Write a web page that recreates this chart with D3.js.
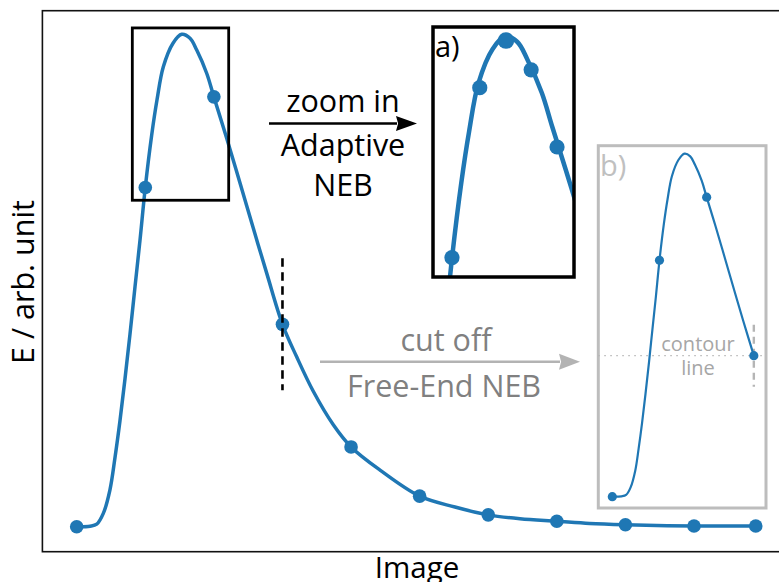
<!DOCTYPE html>
<html>
<head>
<meta charset="utf-8">
<script src="https://cdnjs.cloudflare.com/ajax/libs/d3/7.8.5/d3.min.js"></script>
<style>
  body { margin: 0; background: #fff; }
  svg { display: block; font-family: "Open Sans", sans-serif; }
</style>
</head>
<body>
<div class="chart"></div>
<script>
const width = 779;
const height = 582;

// NEB images (x = image, E in arb. units)
const imageX = [0, 1, 2, 3, 4, 5, 6, 7, 8, 9, 9.9];
const imageE = [0, 0.689, 0.873, 0.411, 0.162, 0.062, 0.024, 0.011, 0.004, 0.0014, 0.0014];

// interpolated energy path
const pathX = [0, 0.194, 0.292, 0.388, 0.485, 0.558, 0.631, 0.704, 0.777, 0.850, 0.923, 1.0,
               1.093, 1.171, 1.263, 1.404, 1.531, 1.652, 1.750, 1.895, 2.0, 2.187, 2.381,
               2.575, 2.770, 3.0, 3.207, 3.449, 3.741, 4.0, 4.422, 5.0, 5.515, 6.0,
               6.463, 7.0, 7.478, 8.0, 9.0, 9.9];
const pathE = [0, 0.001, 0.005, 0.027, 0.075, 0.140, 0.215, 0.300, 0.391, 0.487, 0.582, 0.689,
               0.795, 0.867, 0.934, 0.982, 1.0, 0.992, 0.968, 0.921, 0.873, 0.789, 0.698,
               0.606, 0.515, 0.411, 0.345, 0.275, 0.207, 0.162, 0.115, 0.062, 0.040, 0.024,
               0.016, 0.011, 0.0065, 0.004, 0.0014, 0.0014];

// adaptive NEB images around the saddle (inset a)
const adaptiveX = [1.0, 1.277, 1.538, 1.789, 2.047];
const adaptiveE = [0.690, 0.928, 0.994, 0.953, 0.845];

// free-end NEB cut-off image
const cutIndex = 3;

const blue = "#1f77b4";
const path = pathX.map((x, i) => ({x: x, e: pathE[i]}));
const images = imageX.map((x, i) => ({x: x, e: imageE[i]}));
const adaptive = adaptiveX.map((x, i) => ({x: x, e: adaptiveE[i]}));

const svg = d3.select(".chart")
    .append("svg")
    .attr("width", width)
    .attr("height", height);

// main axes
const x = d3.scaleLinear().domain([-0.5, 10.5]).range([42.4, 796.9]);
const y = d3.scaleLinear().domain([-0.0508, 1.048]).range([551.7, 10.7]);

let line = (xs, ys) => d3.line()
    .x(d => xs(d.x))
    .y(d => ys(d.e))
    .curve(d3.curveCatmullRom.alpha(0.5));

svg.append("rect")
    .attr("x", x(-0.5)).attr("y", y(1.048))
    .attr("width", x(10.5) - x(-0.5)).attr("height", y(-0.0508) - y(1.048))
    .attr("fill", "none").attr("stroke", "#111").attr("stroke-width", 1.6);

svg.append("path")
    .datum(path)
    .attr("d", line(x, y))
    .attr("fill", "none")
    .attr("stroke", blue)
    .attr("stroke-width", 3.5);

svg.append("g")
    .selectAll("circle")
    .data(images)
    .join("circle")
    .attr("cx", d => x(d.x))
    .attr("cy", d => y(d.e))
    .attr("r", 6.8)
    .attr("fill", blue);

// zoom box on the saddle
const zx = [0.811, 2.216];
const ze = [0.663, 1.013];
svg.append("rect")
    .attr("x", x(zx[0])).attr("y", y(ze[1]))
    .attr("width", x(zx[1]) - x(zx[0])).attr("height", y(ze[0]) - y(ze[1]))
    .attr("fill", "none").attr("stroke", "#000").attr("stroke-width", 2.8);

// cut off marker
const cut = images[cutIndex];
svg.append("line")
    .attr("x1", x(cut.x)).attr("x2", x(cut.x))
    .attr("y1", y(cut.e) - 66).attr("y2", y(cut.e) + 66)
    .attr("stroke", "#000").attr("stroke-width", 2.6)
    .attr("stroke-dasharray", "8.5,5.5");

// axis labels
svg.append("text")
    .attr("x", 417).attr("y", 578)
    .attr("text-anchor", "middle")
    .attr("font-size", 29.5)
    .text("Image");
svg.append("text")
    .attr("transform", "translate(34,282) rotate(-90)")
    .attr("text-anchor", "middle")
    .attr("font-size", 30.5)
    .text("E / arb. unit");

// arrows
function arrow(x1, x2, yy, color, hl, hw) {
    svg.append("line")
        .attr("x1", x1).attr("x2", x2 - hl + 1)
        .attr("y1", yy).attr("y2", yy)
        .attr("stroke", color).attr("stroke-width", 2.6);
    svg.append("path")
        .attr("d", `M${x2},${yy}L${x2 - hl},${yy - hw}L${x2 - hl * 0.9},${yy}L${x2 - hl},${yy + hw}Z`)
        .attr("fill", color);
}
arrow(269, 417, 123.5, "#000", 21, 7.5);
arrow(320, 580, 361.7, "#b3b3b3", 21, 8);

const note = (tx, ty, txt, color) => svg.append("text")
    .attr("x", tx).attr("y", ty)
    .attr("text-anchor", "middle")
    .attr("font-size", 30.5)
    .attr("fill", color)
    .text(txt);
note(343, 112, "zoom in", "#000");
note(343, 156, "Adaptive", "#000");
note(343, 196, "NEB", "#000");
note(446, 351, "cut off", "#808080");
note(444, 397, "Free-End NEB", "#808080");

// inset a) adaptive NEB
const ax = d3.scaleLinear().domain(zx).range([433, 574]);
const ay = d3.scaleLinear().domain(ze).range([277, 27]);
const ga = svg.append("g");
ga.append("clipPath").attr("id", "clipA")
    .append("rect").attr("x", 433).attr("y", 27).attr("width", 141).attr("height", 250);
ga.append("path")
    .datum(path)
    .attr("clip-path", "url(#clipA)")
    .attr("d", line(ax, ay))
    .attr("fill", "none")
    .attr("stroke", blue)
    .attr("stroke-width", 4.5);
ga.selectAll("circle")
    .data(adaptive)
    .join("circle")
    .attr("cx", d => ax(d.x))
    .attr("cy", d => ay(d.e))
    .attr("r", (d, i) => i === 2 ? 8.3 : 7.6)
    .attr("fill", blue);
ga.append("rect")
    .attr("x", 433).attr("y", 27).attr("width", 141).attr("height", 250)
    .attr("fill", "none").attr("stroke", "#000").attr("stroke-width", 3.5);
ga.append("text")
    .attr("x", 435).attr("y", 57)
    .attr("font-size", 29)
    .text("a)");

// inset b) free-end NEB
const bx = d3.scaleLinear().domain([-0.297, 3.258]).range([598.3, 766]);
const by = d3.scaleLinear().domain([-0.033, 1.023]).range([508, 145.7]);
const gb = svg.append("g");
gb.append("rect")
    .attr("x", bx(-0.297)).attr("y", by(1.023))
    .attr("width", bx(3.258) - bx(-0.297)).attr("height", by(-0.033) - by(1.023))
    .attr("fill", "#fff").attr("stroke", "#bdbdbd").attr("stroke-width", 3);
gb.append("line")
    .attr("x1", bx(-0.297)).attr("x2", bx(3.258))
    .attr("y1", by(cut.e)).attr("y2", by(cut.e))
    .attr("stroke", "#b5b5b5").attr("stroke-width", 1.3)
    .attr("stroke-dasharray", "1.5,4.5");
gb.append("line")
    .attr("x1", bx(cut.x)).attr("x2", bx(cut.x))
    .attr("y1", by(cut.e) - 31).attr("y2", by(cut.e) + 31)
    .attr("stroke", "#b5b5b5").attr("stroke-width", 2.4)
    .attr("stroke-dasharray", "7,5");
gb.append("path")
    .datum(path.filter(d => d.x <= cut.x))
    .attr("d", line(bx, by))
    .attr("fill", "none")
    .attr("stroke", blue)
    .attr("stroke-width", 2.2);
gb.selectAll("circle")
    .data(images.slice(0, cutIndex + 1))
    .join("circle")
    .attr("cx", d => bx(d.x))
    .attr("cy", d => by(d.e))
    .attr("r", 4.6)
    .attr("fill", blue);
gb.append("text")
    .attr("x", 600).attr("y", 176)
    .attr("font-size", 29)
    .attr("fill", "#c0c0c0")
    .text("b)");
gb.append("text")
    .attr("x", 698).attr("y", 351)
    .attr("text-anchor", "middle")
    .attr("font-size", 20)
    .attr("fill", "#a6a6a6")
    .text("contour");
gb.append("text")
    .attr("x", 698).attr("y", 375)
    .attr("text-anchor", "middle")
    .attr("font-size", 20)
    .attr("fill", "#a6a6a6")
    .text("line");
</script>
</body>
</html>
